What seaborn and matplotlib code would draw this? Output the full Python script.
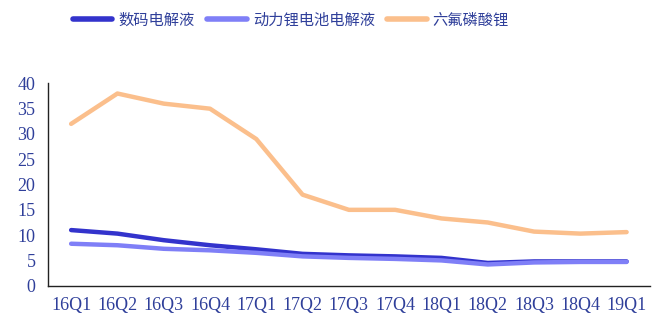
import matplotlib
matplotlib.use("Agg")
import matplotlib.pyplot as plt
import seaborn as sns
import pandas as pd

quarters = ["16Q1", "16Q2", "16Q3", "16Q4", "17Q1", "17Q2", "17Q3", "17Q4",
            "18Q1", "18Q2", "18Q3", "18Q4", "19Q1"]
digital = [11.0, 10.3, 9.0, 8.0, 7.2, 6.3, 6.0, 5.8, 5.5, 4.5, 4.8, 4.8, 4.8]
power = [8.3, 8.0, 7.3, 7.0, 6.5, 5.8, 5.5, 5.3, 5.0, 4.2, 4.6, 4.7, 4.7]
lipf6 = [32, 38, 36, 35, 29, 18, 15, 15, 13.3, 12.5, 10.7, 10.3, 10.6]
series_names = ["数码电解液", "动力锂电池电解液", "六氟磷酸锂"]
colors = ["#3333CC", "#7F7FF7", "#FBBF8C"]

df = pd.DataFrame({"q": quarters, series_names[0]: digital,
                   series_names[1]: power, series_names[2]: lipf6})
long = df.melt(id_vars="q", var_name="series", value_name="v")
long["x"] = long["q"].map({q: i for i, q in enumerate(quarters)})

sns.set_style("white")
plt.rcParams["font.family"] = ["Noto Sans CJK SC", "DejaVu Sans"]

fig = plt.figure(figsize=(6.61, 3.22), dpi=100)
ax = fig.add_axes([0.0726, 0.1127, 0.9104, 0.6283])
sns.lineplot(data=long, x="x", y="v", hue="series", hue_order=series_names,
             palette=colors, linewidth=3.2, ax=ax, legend=False,
             solid_capstyle="round")

ax.set_xlim(-0.5, len(quarters) - 0.5)
ax.set_ylim(0, 40)
ax.set_yticks(range(0, 41, 5))
ax.set_xticks(range(len(quarters)))
ax.set_xticklabels(quarters)
ax.set_xticks([i - 0.5 for i in range(len(quarters) + 1)], minor=True)
ax.set_xlabel("")
ax.set_ylabel("")
for s in ["top", "right"]:
    ax.spines[s].set_visible(False)
for s in ["left", "bottom"]:
    ax.spines[s].set_color("#222222")
    ax.spines[s].set_linewidth(1.0)
ax.tick_params(axis="x", which="major", length=0, pad=8)
ax.tick_params(axis="x", which="minor", direction="in", length=5, color="#222222", width=1)
ax.tick_params(axis="y", direction="out", length=5, color="#222222", width=1, pad=4)
tick_color = "#2F3F9A"
for lab in ax.get_xticklabels() + ax.get_yticklabels():
    lab.set_family(["Liberation Serif", "DejaVu Serif"])
    lab.set_fontsize(13)
    lab.set_color(tick_color)

from matplotlib.lines import Line2D
handles = [Line2D([0], [0], color=c, lw=4, solid_capstyle="round") for c in colors]
leg = fig.legend(handles, series_names, loc="center", bbox_to_anchor=(0.44, 0.938),
                 ncol=3, frameon=False, handlelength=2.6, handletextpad=0.4,
                 columnspacing=0.8, prop={"size": 11})
for t in leg.get_texts():
    t.set_color(tick_color)

fig.savefig("out.png", dpi=100)
